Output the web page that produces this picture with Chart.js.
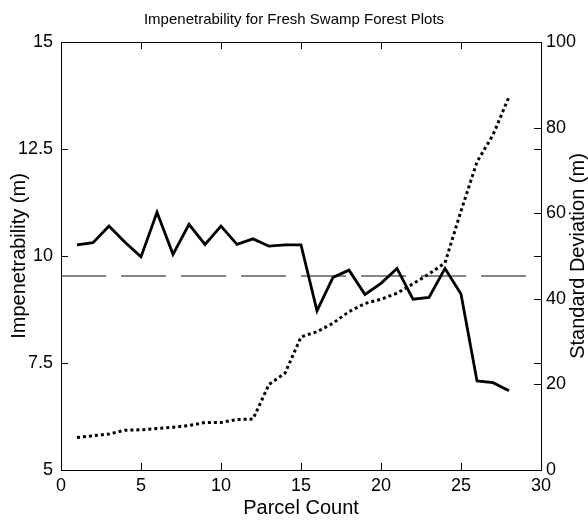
<!DOCTYPE html>
<html>
<head>
<meta charset="utf-8">
<script src="https://cdn.jsdelivr.net/npm/chart.js@4.4.1/dist/chart.umd.min.js"></script>
<style>
  html, body { margin: 0; padding: 0; background: #fff; }
  #wrap { width: 588px; height: 521px; }
</style>
</head>
<body>
<div id="wrap"><canvas id="impChart"></canvas></div>
<script>
// Values
const parcels = [1, 2, 3, 4, 5, 6, 7, 8, 9, 10, 11, 12, 13, 14, 15, 16, 17, 18, 19, 20, 21, 22, 23, 24, 25, 26, 27, 28];
const impenetrability = [10.26, 10.31, 10.70, 10.32, 9.98, 11.02, 10.04, 10.74, 10.27, 10.70, 10.27, 10.40, 10.23, 10.26,
    10.26, 8.72, 9.50, 9.67, 9.10, 9.36, 9.71, 8.99, 9.03, 9.71, 9.11, 7.08, 7.04, 6.85];
const stdDeviation = [7.6, 8.0, 8.4, 9.3, 9.4, 9.7, 10.0, 10.4, 11.1, 11.1, 11.8, 11.9, 20.0, 22.6,
    31.1, 32.3, 34.3, 37.0, 38.9, 39.9, 41.3, 43.5, 45.8, 48.4, 60.5, 72.0, 78.3, 87.2];
const refX = [0, 30];
const refY = [9.53, 9.53];

const xTicks = [0, 5, 10, 15, 20, 25, 30];
const leftTicks = [5, 7.5, 10, 12.5, 15];
const rightTicks = [0, 20, 40, 60, 80, 100];

const FONT = "'Liberation Sans', Arial, sans-serif";
const TICK_LEN = 7;
const RIGHT_TITLE = 'Standard Deviation (m)';

function toPoints(xs, ys) {
    return xs.map((x, i) => ({ x: x, y: ys[i] }));
}

// MATLAB style box with inward ticks on all sides, plus the right axis label
// (Chart.js turns a right title the other way round)
const boxPlugin = {
    id: 'boxTicks',
    afterDraw(chart) {
        const { ctx, chartArea: a, scales } = chart;
        ctx.save();
        ctx.strokeStyle = '#000';
        ctx.lineWidth = 1;
        ctx.strokeRect(a.left + 0.5, a.top + 0.5, a.right - a.left, a.bottom - a.top);
        ctx.beginPath();
        xTicks.forEach(v => {
            const px = Math.round(scales.x.getPixelForValue(v)) + 0.5;
            ctx.moveTo(px, a.bottom); ctx.lineTo(px, a.bottom - TICK_LEN);
            ctx.moveTo(px, a.top); ctx.lineTo(px, a.top + TICK_LEN);
        });
        leftTicks.forEach(v => {
            const py = Math.round(scales.y.getPixelForValue(v)) + 0.5;
            ctx.moveTo(a.left, py); ctx.lineTo(a.left + TICK_LEN, py);
            ctx.moveTo(a.right, py); ctx.lineTo(a.right - TICK_LEN, py);
        });
        rightTicks.forEach(v => {
            const py = Math.round(scales.y1.getPixelForValue(v)) + 0.5;
            ctx.moveTo(a.right, py); ctx.lineTo(a.right - TICK_LEN, py);
        });
        ctx.stroke();

        ctx.translate(scales.y1.right - 10, (a.top + a.bottom) / 2);
        ctx.rotate(-Math.PI / 2);
        ctx.fillStyle = '#000';
        ctx.font = '20px ' + FONT;
        ctx.textAlign = 'center';
        ctx.textBaseline = 'middle';
        ctx.fillText(RIGHT_TITLE, 0, 0);
        ctx.restore();
    }
};

function fixedTicks(list) {
    return scale => { scale.ticks = list.map(v => ({ value: v })); };
}

const noGrid = { display: false, drawTicks: false };

const ctx = document.getElementById('impChart').getContext('2d');
const impChart = new Chart(ctx, {
    type: 'line',
    data: {
        datasets: [{
            label: 'Impenetrability',
            data: toPoints(parcels, impenetrability),
            yAxisID: 'y',
            borderColor: '#000',
            borderWidth: 2.8,
            pointRadius: 0,
            tension: 0
        }, {
            label: 'Standard Deviation',
            data: toPoints(parcels, stdDeviation),
            yAxisID: 'y1',
            borderColor: '#000',
            borderWidth: 3,
            borderDash: [3, 3],
            borderCapStyle: 'butt',
            pointRadius: 0,
            tension: 0
        }, {
            label: 'Reference',
            data: toPoints(refX, refY),
            yAxisID: 'y',
            borderColor: '#5f5f5f',
            borderWidth: 1.5,
            borderDash: [45, 15],
            pointRadius: 0,
            tension: 0
        }]
    },
    options: {
        responsive: true,
        maintainAspectRatio: false,
        animation: false,
        layout: { padding: 0 },
        plugins: {
            legend: { display: false },
            tooltip: { enabled: false },
            title: {
                display: true,
                text: 'Impenetrability for Fresh Swamp Forest Plots',
                color: '#000',
                font: { family: FONT, size: 15, weight: 'normal' },
                padding: { top: 11, bottom: 13 }
            }
        },
        scales: {
            x: {
                type: 'linear',
                min: 0,
                max: 30,
                afterBuildTicks: fixedTicks(xTicks),
                afterFit: s => { s.height = 51; },
                grid: noGrid,
                border: { display: false },
                ticks: { color: '#000', padding: 5, font: { family: FONT, size: 18 } },
                title: {
                    display: true,
                    text: 'Parcel Count',
                    color: '#000',
                    font: { family: FONT, size: 20 },
                    padding: { top: 0, bottom: 1 }
                }
            },
            y: {
                position: 'left',
                min: 5,
                max: 15,
                afterBuildTicks: fixedTicks(leftTicks),
                afterFit: s => { s.width = 61; },
                grid: noGrid,
                border: { display: false },
                ticks: { color: '#000', padding: 8, font: { family: FONT, size: 18 } },
                title: {
                    display: true,
                    text: 'Impenetrability (m)',
                    color: '#000',
                    font: { family: FONT, size: 20 },
                    padding: { top: 7, bottom: 0 }
                }
            },
            y1: {
                position: 'right',
                min: 0,
                max: 100,
                afterBuildTicks: fixedTicks(rightTicks),
                afterFit: s => { s.width = 47; },
                grid: noGrid,
                border: { display: false },
                ticks: { color: '#000', padding: 5, font: { family: FONT, size: 18 } }
            }
        }
    },
    plugins: [boxPlugin]
});
</script>
</body>
</html>
